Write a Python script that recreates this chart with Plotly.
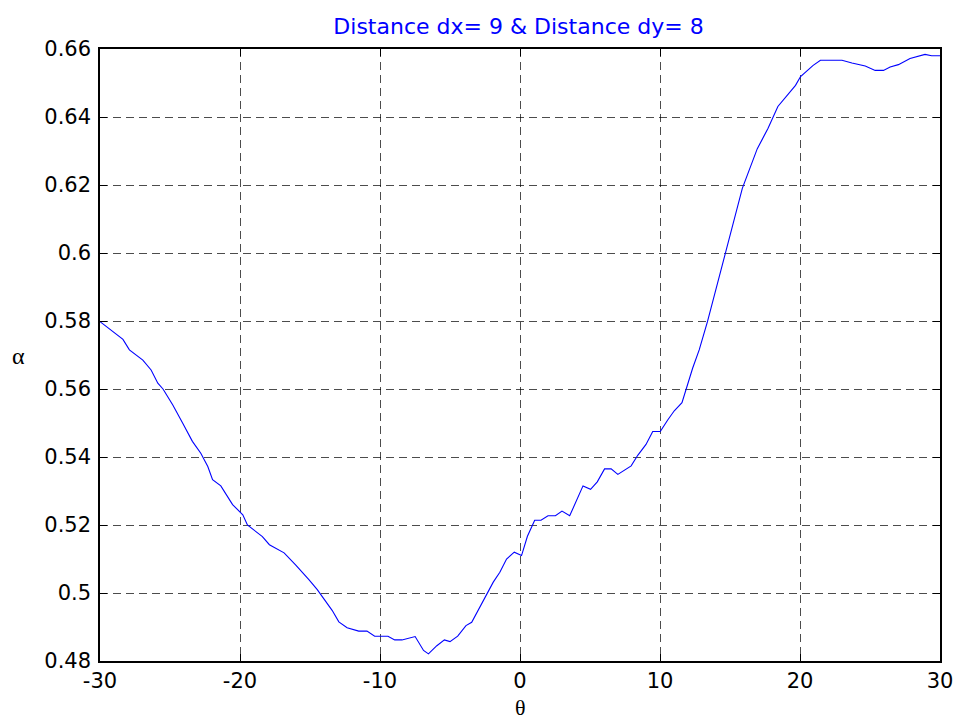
import plotly.graph_objects as go

theta = [-30.0, -28.36, -27.9, -26.94, -26.35, -25.87, -25.5, -24.8, -24.1, -23.4, -22.8, -22.3,
         -21.96, -21.37, -20.53, -19.8, -19.47, -18.4, -17.9, -16.85, -16.03, -15.55, -15.08,
         -14.48, -13.89, -13.42, -12.94, -12.35, -11.52, -10.93, -10.38, -9.43, -8.95, -8.43,
         -7.49, -6.89, -6.54, -5.94, -5.4, -5.0, -4.45, -3.86, -3.45, -2.98, -2.38, -1.91,
         -1.44, -0.96, -0.41, 0.11, 0.53, 1.05, 1.5, 2.0, 2.53, 3.0, 3.55, 4.02, 4.5, 5.04,
         5.52, 6.04, 6.51, 6.99, 7.46, 7.94, 8.41, 9.0, 9.48, 10.02, 10.55, 11.02, 11.57,
         11.85, 12.33, 12.8, 13.39, 14.7, 15.88, 16.95, 17.71, 18.42, 19.04, 19.68, 20.04,
         20.94, 21.46, 23.0, 23.71, 24.66, 25.37, 25.96, 26.44, 27.03, 27.86, 28.93, 29.4, 30.0]
alpha = [0.5798, 0.5746, 0.5715, 0.5685, 0.5656, 0.5617, 0.5600, 0.5553, 0.5500, 0.5446, 0.5411, 0.5372,
         0.5333, 0.5315, 0.5260, 0.5230, 0.5200, 0.5166, 0.5142, 0.5118, 0.5083, 0.5062, 0.5039,
         0.5010, 0.4974, 0.4949, 0.4915, 0.4898, 0.4888, 0.4888, 0.4873, 0.4873, 0.4862, 0.4862,
         0.4872, 0.4831, 0.4821, 0.4845, 0.4862, 0.4857, 0.4873, 0.4904, 0.4914, 0.4949, 0.4995, 0.5032,
         0.5061, 0.5100, 0.5120, 0.5110, 0.5167, 0.5214, 0.5214, 0.5227, 0.5227, 0.5241, 0.5227, 0.5273, 0.5315, 0.5305,
         0.5327, 0.5365, 0.5365, 0.5349, 0.5362, 0.5374, 0.5405, 0.5437, 0.5475, 0.5475, 0.5509, 0.5536, 0.5560,
         0.5600, 0.5661, 0.5715, 0.5798, 0.6004, 0.6190, 0.6307, 0.6366, 0.6431, 0.6463, 0.6493, 0.6519,
         0.6552, 0.6567, 0.6567, 0.6559, 0.6550, 0.6537, 0.6537, 0.6547, 0.6554, 0.6572, 0.6584, 0.6580, 0.6580]

x_ticks = [-30, -20, -10, 0, 10, 20, 30]
y_ticks = [0.48, 0.5, 0.52, 0.54, 0.56, 0.58, 0.6, 0.62, 0.64, 0.66]
y_tick_text = ["0.48", "0.5", "0.52", "0.54", "0.56", "0.58", "0.6", "0.62", "0.64", "0.66"]
title_text = "Distance dx= 9 & Distance dy= 8"
x_label = "θ"
y_label = "α"

W, H = 957, 720
L, R, T, B = 100, 17, 49, 59
PW, PH = W - L - R, H - T - B


def px_x(px):
    return (px - L) / PW


def px_y(py):
    return (H - B - py) / PH


tick_font = dict(family="DejaVu Sans", size=21, color="black")
axis_common = dict(
    showline=True, linecolor="black", linewidth=1.5, mirror="ticks",
    ticks="inside", ticklen=7, tickcolor="black", tickwidth=1,
    showgrid=True, gridcolor="rgba(0,0,0,0.7)", griddash="8px,5px", gridwidth=1,
    zeroline=False, tickfont=tick_font, automargin=False,
)

fig = go.Figure()
fig.add_trace(go.Scatter(x=theta, y=alpha, mode="lines",
                         line=dict(color="#0000ff", width=1.1), showlegend=False))

fig.update_layout(
    width=W, height=H,
    margin=dict(l=L, r=R, t=T, b=B),
    paper_bgcolor="white", plot_bgcolor="white",
    title=dict(text=title_text, automargin=False,
               font=dict(family="DejaVu Sans", size=22, color="#0000ff"),
               x=(332 + 705) / 2 / W, xanchor="center",
               y=1 - 26 / H, yanchor="middle"),
    xaxis=dict(range=[-30, 30], tickvals=x_ticks, ticktext=[str(v) for v in x_ticks],
               ticklabelstandoff=0, **axis_common),
    yaxis=dict(range=[0.48, 0.66], tickvals=y_ticks, ticktext=y_tick_text,
               ticklabelstandoff=3, **axis_common),
    annotations=[
        dict(text=x_label, xref="paper", yref="paper", x=px_x(520), y=px_y(707),
             xanchor="center", yanchor="middle", showarrow=False,
             font=dict(family="Liberation Serif, Times New Roman", size=22, color="black")),
        dict(text=y_label, xref="paper", yref="paper", x=px_x(18), y=px_y(356),
             xanchor="center", yanchor="middle", showarrow=False,
             font=dict(family="Liberation Serif, Times New Roman", size=24, color="black")),
    ],
)

fig.write_html("out.html")
